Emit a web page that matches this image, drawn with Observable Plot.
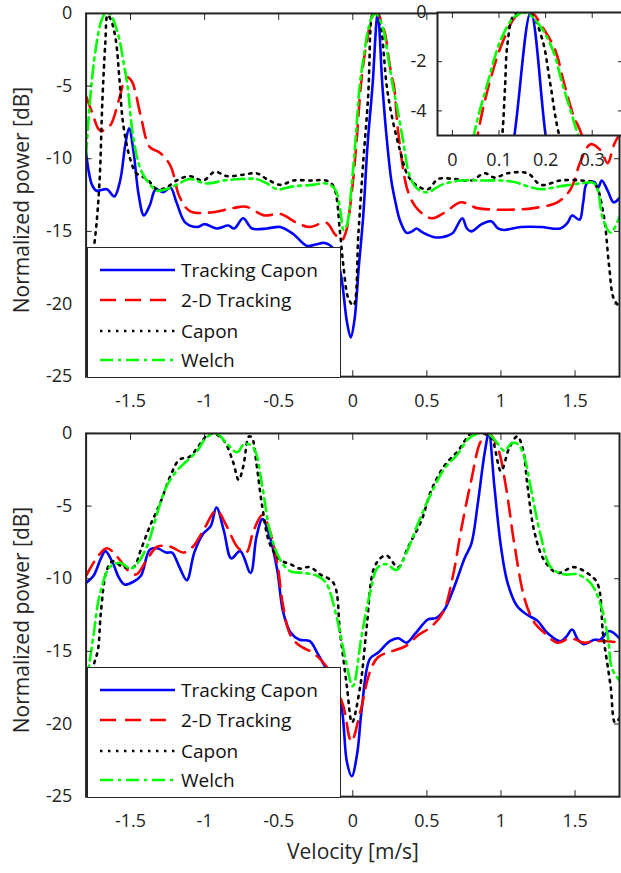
<!DOCTYPE html>
<html><head><meta charset="utf-8">
<script src="https://cdn.jsdelivr.net/npm/d3@7"></script>
<script src="https://cdn.jsdelivr.net/npm/@observablehq/plot@0.6"></script>
<style>
body{margin:0;background:#fff;}
#root{position:relative;width:621px;height:873px;font-family:"Open Sans",sans-serif;color:#262626;overflow:hidden;}
.legend{position:absolute;background:#fff;border:1px solid #262626;box-sizing:border-box;}
.legend .row{position:absolute;left:0;height:30px;}
.legend .row span{position:absolute;left:93px;top:0;line-height:30px;font-size:19px;white-space:nowrap;color:#111;}
.ylab{position:absolute;font-size:21px;white-space:nowrap;transform:translate(-50%,-50%) rotate(-90deg);}
.xlab{position:absolute;font-size:21px;white-space:nowrap;transform:translate(-50%,-50%);}
</style>
</head><body><div id="root"></div>
<script>
// ---------------- data ----------------
const seriesNames = ["Tracking Capon", "2-D Tracking", "Capon", "Welch"];
const xTicks = [-1.5, -1, -0.5, 0, 0.5, 1, 1.5];
const yTicks = [0, -5, -10, -15, -20, -25];
const insetXTicks = [0, 0.1, 0.2, 0.3];
const insetYTicks = [0, -2, -4];

// top panel  [velocity, dB]
const topTrackingCapon = [[-1.80,-9.6],[-1.76,-11.8],[-1.73,-12.2],[-1.66,-12.1],[-1.61,-12.6],[-1.57,-11.5],[-1.535,-9],[-1.51,-7.9],[-1.48,-9.5],[-1.445,-12.5],[-1.41,-13.9],[-1.37,-13.2],[-1.33,-12.1],[-1.28,-12.3],[-1.23,-12.0],[-1.19,-13],[-1.13,-14.4],[-1.05,-14.7],[-1.0,-14.5],[-0.92,-14.8],[-0.84,-14.6],[-0.80,-14.8],[-0.74,-14.1],[-0.68,-14.8],[-0.58,-14.8],[-0.49,-14.7],[-0.40,-15.2],[-0.31,-16.0],[-0.25,-15.9],[-0.19,-15.8],[-0.13,-16.2],[-0.08,-18],[-0.04,-21.2],[-0.014,-22.3],[0.01,-21.2],[0.04,-17.5],[0.07,-14],[0.10,-9],[0.133,-5],[0.168,0],[0.20,-5],[0.228,-8.5],[0.26,-11.5],[0.284,-12.8],[0.32,-14.3],[0.363,-15.1],[0.40,-15],[0.43,-14.8],[0.46,-15.0],[0.497,-15.2],[0.55,-15.4],[0.598,-15.4],[0.64,-15.3],[0.676,-15.1],[0.739,-14.1],[0.77,-14.8],[0.80,-15.0],[0.87,-14.5],[0.934,-14.3],[0.98,-14.8],[1.023,-14.9],[1.135,-14.7],[1.27,-14.7],[1.40,-14.8],[1.45,-14.4],[1.48,-13.9],[1.53,-14.2],[1.555,-13],[1.58,-11.7],[1.63,-11.6],[1.655,-12],[1.68,-11.5],[1.72,-12.2],[1.76,-13.0],[1.80,-12.7]];
const top2DTracking = [[-1.80,-5.7],[-1.76,-6.8],[-1.72,-7.9],[-1.70,-8.1],[-1.66,-7.9],[-1.63,-7.6],[-1.58,-6],[-1.54,-4.6],[-1.52,-4.4],[-1.49,-4.7],[-1.47,-5.3],[-1.43,-7.1],[-1.37,-9.2],[-1.30,-9.6],[-1.23,-10.5],[-1.17,-12.6],[-1.10,-13.6],[-0.96,-13.7],[-0.81,-13.4],[-0.72,-13.3],[-0.60,-13.9],[-0.49,-13.8],[-0.38,-14.4],[-0.29,-14.7],[-0.18,-14.4],[-0.12,-15.2],[-0.074,-15.6],[-0.045,-15.0],[-0.018,-13.3],[0.02,-9.5],[0.054,-5],[0.079,-2.9],[0.11,-1.1],[0.14,-0.1],[0.17,0],[0.19,-0.5],[0.22,-1.5],[0.24,-2.9],[0.26,-4.2],[0.278,-5],[0.307,-8.2],[0.374,-12.3],[0.44,-13.5],[0.53,-14.1],[0.62,-13.7],[0.73,-13.0],[0.84,-13.4],[0.956,-13.5],[1.09,-13.5],[1.22,-13.4],[1.38,-13.0],[1.47,-12.1],[1.54,-10.1],[1.605,-9.0],[1.67,-9.4],[1.72,-10.3],[1.76,-9.1],[1.80,-8.3]];
const topCapon = [[-1.80,-19],[-1.77,-17.5],[-1.74,-15.5],[-1.71,-11.7],[-1.69,-6],[-1.67,-2],[-1.655,-0.1],[-1.63,-0.5],[-1.60,-1.8],[-1.575,-4.5],[-1.55,-7.6],[-1.50,-10.1],[-1.46,-11],[-1.39,-11.4],[-1.32,-12.1],[-1.26,-12.0],[-1.19,-11.5],[-1.10,-11.2],[-1.01,-11.5],[-0.93,-10.9],[-0.85,-11.2],[-0.74,-11.1],[-0.65,-11.0],[-0.58,-11.4],[-0.49,-11.8],[-0.40,-11.5],[-0.27,-11.5],[-0.18,-11.5],[-0.13,-11.9],[-0.086,-15.1],[-0.063,-17.4],[-0.03,-19.6],[0.005,-20.1],[0.038,-15.1],[0.072,-10],[0.095,-7],[0.107,-5],[0.113,-3],[0.118,-1.3],[0.132,-0.1],[0.15,0],[0.17,-0.1],[0.193,-1.1],[0.21,-2.9],[0.228,-4.9],[0.262,-7.0],[0.318,-9.4],[0.374,-11.2],[0.44,-11.9],[0.508,-12.1],[0.575,-11.4],[0.687,-11.4],[0.80,-11.5],[0.89,-11.0],[0.956,-11.3],[1.045,-11.0],[1.18,-11.0],[1.27,-11.8],[1.40,-11.5],[1.54,-11.5],[1.63,-11.7],[1.69,-13.7],[1.73,-17.4],[1.76,-19.6],[1.80,-20.2]];
const topWelch = [[-1.80,-9.8],[-1.785,-7.5],[-1.76,-4.5],[-1.73,-2.1],[-1.70,-0.6],[-1.67,0],[-1.64,0],[-1.61,-0.6],[-1.575,-1.8],[-1.55,-3.2],[-1.52,-5.0],[-1.485,-8.3],[-1.44,-10.5],[-1.39,-11.5],[-1.32,-12.2],[-1.26,-12.1],[-1.19,-11.8],[-1.10,-11.4],[-0.99,-11.7],[-0.87,-11.5],[-0.76,-11.4],[-0.65,-11.4],[-0.58,-11.7],[-0.51,-12.1],[-0.40,-11.9],[-0.27,-11.8],[-0.18,-11.7],[-0.12,-12.1],[-0.085,-13.5],[-0.063,-14.9],[-0.041,-14.6],[-0.007,-11.7],[0.02,-8.5],[0.046,-5],[0.075,-2.9],[0.104,-1.1],[0.132,-0.2],[0.157,0],[0.186,-0.5],[0.215,-1.5],[0.236,-2.9],[0.257,-4.2],[0.27,-5],[0.30,-6.5],[0.34,-8.8],[0.385,-11.2],[0.44,-12.1],[0.508,-12.3],[0.598,-11.8],[0.73,-11.5],[0.866,-11.5],[1.0,-11.5],[1.09,-11.6],[1.18,-11.9],[1.27,-12.1],[1.40,-11.9],[1.54,-11.7],[1.63,-11.7],[1.69,-14.2],[1.74,-15.1],[1.80,-14.0]];

// bottom panel [velocity, dB]
const botTrackingCapon = [[-1.80,-10.3],[-1.75,-9.8],[-1.70,-8.6],[-1.67,-8.1],[-1.62,-8.9],[-1.58,-9.9],[-1.54,-10.4],[-1.48,-10.2],[-1.43,-9.8],[-1.37,-8.0],[-1.32,-7.9],[-1.26,-8.2],[-1.22,-8.2],[-1.17,-9.2],[-1.12,-10.1],[-1.07,-8.2],[-1.01,-6.9],[-0.96,-6.4],[-0.92,-5.1],[-0.87,-6.7],[-0.82,-8.6],[-0.76,-8.1],[-0.69,-9.6],[-0.65,-7.1],[-0.61,-5.9],[-0.56,-7.1],[-0.51,-9.4],[-0.47,-12.3],[-0.42,-13.7],[-0.36,-14.2],[-0.29,-14.3],[-0.24,-15.1],[-0.19,-16.0],[-0.13,-17],[-0.074,-19],[-0.04,-22.6],[-0.007,-23.6],[0.03,-22],[0.06,-19.0],[0.116,-15.5],[0.17,-15.1],[0.25,-14.3],[0.307,-14.1],[0.363,-14.4],[0.42,-13.8],[0.508,-12.8],[0.564,-12.7],[0.62,-12.1],[0.687,-10.5],[0.754,-8.6],[0.80,-7.6],[0.844,-4.8],[0.889,-1.4],[0.918,0],[0.956,-3.7],[1.0,-7.8],[1.045,-10.3],[1.11,-11.9],[1.18,-12.5],[1.247,-12.9],[1.31,-13.7],[1.40,-14.3],[1.44,-14.0],[1.48,-13.5],[1.52,-14.2],[1.56,-14.5],[1.63,-14.2],[1.67,-14.2],[1.73,-13.6],[1.80,-14.1]];
const bot2DTracking = [[-1.80,-9.8],[-1.73,-8.6],[-1.66,-7.9],[-1.59,-8.5],[-1.50,-9.6],[-1.46,-9.7],[-1.39,-8.7],[-1.32,-7.8],[-1.23,-7.8],[-1.14,-8.2],[-1.08,-7.8],[-1.01,-6.7],[-0.92,-5.3],[-0.85,-6.4],[-0.78,-7.8],[-0.72,-8.2],[-0.67,-6.7],[-0.61,-5.6],[-0.56,-6.7],[-0.51,-8.9],[-0.47,-11.9],[-0.42,-13.9],[-0.36,-14.6],[-0.27,-15.1],[-0.18,-16.0],[-0.12,-17.3],[-0.063,-18.8],[-0.01,-21.2],[0.05,-19.2],[0.116,-16.4],[0.17,-15.4],[0.26,-15.0],[0.363,-14.6],[0.44,-13.9],[0.53,-13.3],[0.61,-12.3],[0.676,-9.8],[0.73,-6.7],[0.80,-3.2],[0.866,-0.5],[0.918,0],[0.978,-1.0],[1.034,-3.7],[1.09,-7.6],[1.16,-11.4],[1.224,-13.0],[1.29,-13.7],[1.38,-14.4],[1.47,-14.1],[1.56,-14.4],[1.63,-14.3],[1.72,-14.3],[1.80,-14.4]];
const botCapon = [[-1.80,-18.5],[-1.75,-16],[-1.72,-14.9],[-1.70,-12.3],[-1.66,-9.4],[-1.62,-8.8],[-1.55,-9.2],[-1.48,-9.2],[-1.43,-8.0],[-1.37,-6.4],[-1.30,-4.8],[-1.23,-2.9],[-1.17,-1.8],[-1.10,-1.6],[-1.05,-1.0],[-0.99,-0.2],[-0.94,0],[-0.87,-0.5],[-0.81,-1.9],[-0.77,-3.2],[-0.74,-2.3],[-0.70,-0.2],[-0.68,-0.3],[-0.65,-2.1],[-0.61,-5.1],[-0.56,-7.6],[-0.49,-8.7],[-0.42,-9.0],[-0.36,-9.3],[-0.29,-9.2],[-0.22,-9.7],[-0.13,-10.3],[-0.086,-13.7],[-0.04,-17.4],[-0.005,-19.9],[0.05,-17.4],[0.094,-13.3],[0.139,-9.4],[0.185,-8.6],[0.228,-8.4],[0.307,-9.2],[0.374,-7.8],[0.463,-6.0],[0.53,-3.9],[0.62,-2.2],[0.71,-1.2],[0.80,0],[0.866,0],[0.93,-0.2],[1.0,-2.6],[1.056,-1.0],[1.11,-0.2],[1.146,-1.0],[1.18,-3.7],[1.224,-6.7],[1.29,-8.7],[1.38,-9.6],[1.49,-9.2],[1.58,-9.6],[1.65,-10.3],[1.69,-13.9],[1.74,-17.4],[1.77,-19.9],[1.80,-19.6]];
const botWelch = [[-1.80,-17.4],[-1.75,-13.9],[-1.71,-11.2],[-1.64,-9.2],[-1.57,-8.9],[-1.50,-9.3],[-1.45,-8.9],[-1.39,-7.8],[-1.32,-5.5],[-1.26,-3.7],[-1.19,-2.6],[-1.12,-1.9],[-1.05,-1.2],[-0.99,-0.3],[-0.92,0],[-0.85,-0.7],[-0.78,-1.3],[-0.73,-0.7],[-0.67,-1.0],[-0.61,-3.7],[-0.56,-6.7],[-0.49,-8.7],[-0.42,-9.5],[-0.33,-9.6],[-0.24,-9.8],[-0.18,-10.3],[-0.11,-12.6],[-0.05,-15.5],[0,-17.4],[0.06,-13.9],[0.116,-11.0],[0.17,-9.2],[0.228,-9.0],[0.295,-9.4],[0.363,-8.2],[0.44,-6.2],[0.53,-4.1],[0.62,-2.4],[0.71,-1.4],[0.777,-0.4],[0.844,0],[0.91,0],[0.978,-0.7],[1.023,-1.2],[1.068,-0.7],[1.11,-0.7],[1.157,-1.6],[1.2,-3.7],[1.27,-7.1],[1.336,-9.2],[1.426,-9.7],[1.515,-9.7],[1.605,-10.3],[1.67,-11.7],[1.72,-13.9],[1.75,-16.2],[1.80,-17.0]];

// ---------------- styles ----------------
const styles = [
  {stroke: "#0000ff", dash: null},
  {stroke: "#ff0000", dash: "16,9"},
  {stroke: "#000000", dash: "2.4,5.6"},
  {stroke: "#00ff00", dash: "13,5,3,5"}
];
const AX = "#222222";
const fmt = d => String(d);

function lineMarks(sets) {
  return sets.map((data, i) => Plot.line(data, {
    x: d => d[0], y: d => d[1], stroke: styles[i].stroke, strokeWidth: 2.6,
    strokeDasharray: styles[i].dash, curve: "catmull-rom", clip: true
  }));
}

function panel(sets, height, marginBottom) {
  return Plot.plot({
    width: 624, height, marginLeft: 86, marginRight: 2, marginTop: 13, marginBottom,
    style: {fontFamily: '"Open Sans",sans-serif', fontSize: "18px", color: AX, background: "transparent"},
    x: {domain: [-1.8, 1.8]},
    y: {domain: [-25, 0]},
    marks: [
      ...lineMarks(sets),
      Plot.frame({stroke: AX, strokeWidth: 2}),
      Plot.axisX(xTicks, {anchor: "bottom", tickSize: -6, tickPadding: 24, tickFormat: fmt, label: null, stroke: AX, fill: AX}),
      Plot.axisX(xTicks, {anchor: "top", tickSize: -6, fill: "none", label: null, stroke: AX}),
      Plot.axisY(yTicks, {anchor: "left", tickSize: -6, tickPadding: 20, tickFormat: fmt, label: null, stroke: AX, fill: AX}),
      Plot.axisY(yTicks, {anchor: "right", tickSize: -6, fill: "none", label: null, stroke: AX})
    ]
  });
}

const root = document.getElementById("root");
function place(el, left, top) {
  el.style.position = "absolute"; el.style.left = left + "px"; el.style.top = top + "px";
  root.appendChild(el);
}

const topPlot = panel([topTrackingCapon, top2DTracking, topCapon, topWelch], 420, 42);
place(topPlot, 0, 0);
const botPlot = panel([botTrackingCapon, bot2DTracking, botCapon, botWelch], 453, 75);
place(botPlot, 0, 420);

// inset (zoom on top-panel peak)
const inset = Plot.plot({
  width: 217, height: 175, marginLeft: 30, marginRight: 2, marginTop: 12, marginBottom: 40,
  style: {fontFamily: '"Open Sans",sans-serif', fontSize: "18px", color: AX, background: "transparent", overflow: "visible"},
  x: {domain: [-0.032, 0.365]},
  y: {domain: [-5, 0]},
  marks: [
    Plot.frame({fill: "white", stroke: null}),
    ...lineMarks([topTrackingCapon, top2DTracking, topCapon, topWelch]),
    Plot.frame({stroke: AX, strokeWidth: 2}),
    Plot.axisX(insetXTicks, {anchor: "bottom", tickSize: -5, tickPadding: 23, tickFormat: fmt, label: null, stroke: AX, fill: AX}),
    Plot.axisX(insetXTicks, {anchor: "top", tickSize: -5, fill: "none", label: null, stroke: AX}),
    Plot.axisY(insetYTicks, {anchor: "left", tickSize: -5, tickPadding: 16, tickFormat: fmt, label: null, stroke: AX, fill: AX}),
    Plot.axisY(insetYTicks, {anchor: "right", tickSize: -5, fill: "none", label: null, stroke: AX})
  ]
});
place(inset, 407, 0);

// legends
function legend(top) {
  const box = document.createElement("div");
  box.className = "legend";
  box.style.left = "87px"; box.style.top = top + "px";
  box.style.width = "254px"; box.style.height = "131px";
  const rowTops = [7, 37, 68, 97];
  seriesNames.forEach((name, i) => {
    const row = document.createElement("div");
    row.className = "row";
    row.style.top = rowTops[i] + "px";
    row.style.width = "254px";
    const s = styles[i];
    row.innerHTML = `<svg width="90" height="30" style="position:absolute;left:0;top:0"><line x1="12" x2="87" y1="15" y2="15" stroke="${s.stroke}" stroke-width="2.6" ${s.dash ? `stroke-dasharray="${s.dash}"` : ""}/></svg><span>${name}</span>`;
    box.appendChild(row);
  });
  root.appendChild(box);
}
legend(247);
legend(667);

// axis titles
function text(cls, str, x, y) {
  const el = document.createElement("div");
  el.className = cls; el.textContent = str;
  el.style.left = x + "px"; el.style.top = y + "px";
  root.appendChild(el);
}
text("ylab", "Normalized power [dB]", 21, 200);
text("ylab", "Normalized power [dB]", 21, 620);
text("xlab", "Velocity [m/s]", 353, 851);
</script></body></html>
